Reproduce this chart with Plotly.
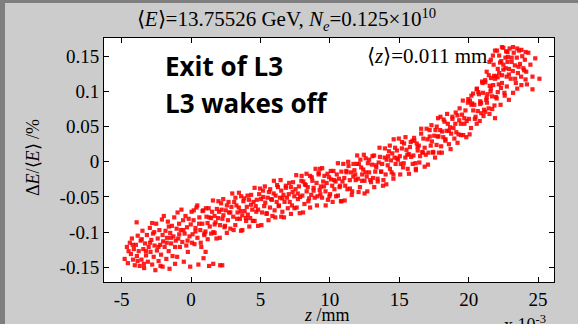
import plotly.graph_objects as go

# ---- data: z in units of 1e-3 mm, dE/<E> in % ----
z_lobe = [-4.78, -4.62, -4.55, -4.41, -4.33, -4.26, -4.18, -4.12, -4.05, -3.92,
          -3.97, -3.90, -3.84, -3.77, -3.70, -3.63, -3.57, -3.50, -3.44, -3.38, -3.31, -3.24, -3.18, -3.11, -3.05,
          -2.97, -2.92, -2.86, -2.80, -2.74, -2.69, -2.63, -2.57, -2.51, -2.46, -2.40, -2.34, -2.28, -2.22, -2.16, -2.10, -2.05, -2.01,
          -1.96, -1.90, -1.84, -1.78, -1.73, -1.67, -1.61, -1.55, -1.50, -1.44, -1.38, -1.33, -1.27, -1.21, -1.15, -1.10, -1.04,
          -0.97, -0.92, -0.86, -0.80, -0.74, -0.69, -0.63, -0.57, -0.52, -0.46, -0.40, -0.34, -0.29, -0.23, -0.17, -0.11, -0.06, -0.02,
          0.04, 0.11, 0.18, 0.25, 0.32, 0.39, 0.46, 0.53, 0.60, 0.67, 0.74, 0.81, 0.88, 0.95,
          1.30, 1.60, 2.10, 2.25, 0.90, 1.05,
          -4.5, -4.2, -3.85, -3.55, -3.25, -2.95, -2.65, -2.35, -2.05, -1.75, -1.45, -1.15, -0.85, -0.55, -0.25,
          -3.4, -2.8, -2.2, -1.6, -1.0]
de_lobe = [-0.138, -0.121, -0.144, -0.115, -0.131, -0.109, -0.139, -0.124, -0.147, -0.086,
           -0.118, -0.134, -0.105, -0.127, -0.148, -0.112, -0.139, -0.098, -0.124, -0.151, -0.116, -0.133, -0.104, -0.142, -0.121,
           -0.094, -0.128, -0.111, -0.146, -0.102, -0.135, -0.119, -0.154, -0.088, -0.126, -0.109, -0.141, -0.097, -0.118, -0.132, -0.082, -0.149, -0.113,
           -0.077, -0.121, -0.098, -0.138, -0.108, -0.085, -0.127, -0.152, -0.101, -0.116, -0.091, -0.134, -0.106, -0.079, -0.145, -0.112, -0.095,
           -0.072, -0.109, -0.088, -0.121, -0.097, -0.068, -0.114, -0.083, -0.142, -0.102, -0.077, -0.119, -0.093, -0.128, -0.081, -0.106, -0.149, -0.089,
           -0.071, -0.103, -0.083, -0.117, -0.094, -0.065, -0.108, -0.146, -0.079, -0.097, -0.121, -0.088, -0.069, -0.104,
           -0.148, -0.145, -0.147, -0.147, -0.137, -0.128,
           -0.127, -0.118, -0.141, -0.110, -0.127, -0.115, -0.100, -0.121, -0.104, -0.115, -0.108, -0.121, -0.103, -0.097, -0.112,
           -0.145, -0.087, -0.148, -0.092, -0.135]

z_mid = [1.04, 1.11, 1.19, 1.27, 1.35, 1.44, 1.52, 1.61, 1.69, 1.77, 1.86, 1.95,
         2.02, 2.09, 2.17, 2.26, 2.33, 2.41, 2.50, 2.58, 2.66, 2.74, 2.83, 2.91,
         3.04, 3.11, 3.19, 3.27, 3.35, 3.44, 3.52, 3.61, 3.69, 3.77, 3.86, 3.95,
         4.02, 4.09, 4.17, 4.26, 4.33, 4.41, 4.50, 4.58, 4.66, 4.74, 4.83, 4.91,
         5.04, 5.11, 5.19, 5.27, 5.35, 5.44, 5.52, 5.61, 5.69, 5.77, 5.86, 5.95,
         6.02, 6.09, 6.17, 6.26, 6.33, 6.41, 6.50, 6.58, 6.66, 6.74, 6.83, 6.91,
         7.04, 7.11, 7.19, 7.27, 7.35, 7.44, 7.52, 7.61, 7.69, 7.77, 7.86, 7.95,
         8.02, 8.09, 8.17, 8.26, 8.33, 8.41, 8.50, 8.58, 8.66, 8.74, 8.83, 8.91,
         9.04, 9.11, 9.19, 9.27, 9.35, 9.44, 9.52, 9.61, 9.69, 9.77, 9.86, 9.95,
         10.02, 10.09, 10.17, 10.26, 10.33, 10.41, 10.50, 10.58, 10.66, 10.74, 10.83, 10.91,
         11.04, 11.11, 11.19, 11.27, 11.35, 11.44, 11.52, 11.61, 11.69, 11.77, 11.86, 11.95]
de_mid = [-0.099, -0.078, -0.087, -0.066, -0.092, -0.080, -0.071, -0.100, -0.077, -0.086, -0.067, -0.080,
          -0.071, -0.090, -0.059, -0.081, -0.076, -0.093, -0.069, -0.062, -0.083, -0.072, -0.095, -0.064,
          -0.078, -0.057, -0.090, -0.062, -0.072, -0.065, -0.081, -0.049, -0.076, -0.056, -0.070, -0.080,
          -0.064, -0.075, -0.054, -0.080, -0.047, -0.068, -0.057, -0.084, -0.063, -0.054, -0.068, -0.046,
          -0.053, -0.072, -0.041, -0.063, -0.058, -0.074, -0.051, -0.043, -0.065, -0.053, -0.077, -0.045,
          -0.069, -0.048, -0.057, -0.036, -0.062, -0.051, -0.041, -0.071, -0.047, -0.057, -0.037, -0.051,
          -0.046, -0.057, -0.036, -0.062, -0.029, -0.049, -0.039, -0.065, -0.045, -0.035, -0.050, -0.027,
          -0.048, -0.028, -0.060, -0.033, -0.042, -0.036, -0.052, -0.020, -0.047, -0.027, -0.041, -0.051,
          -0.030, -0.049, -0.018, -0.040, -0.035, -0.051, -0.028, -0.020, -0.042, -0.030, -0.054, -0.022,
          -0.046, -0.025, -0.034, -0.013, -0.039, -0.028, -0.018, -0.048, -0.024, -0.034, -0.014, -0.028,
          -0.023, -0.034, -0.013, -0.039, -0.006, -0.026, -0.015, -0.042, -0.021, -0.012, -0.026, -0.003]

z_upper = [12.02, 12.09, 12.17, 12.26, 12.33, 12.41, 12.50, 12.58, 12.66, 12.74, 12.83, 12.91,
           13.04, 13.11, 13.19, 13.27, 13.35, 13.44, 13.52, 13.61, 13.69, 13.77, 13.86, 13.95,
           14.02, 14.09, 14.17, 14.26, 14.33, 14.41, 14.50, 14.58, 14.66, 14.74, 14.83, 14.91,
           15.04, 15.11, 15.19, 15.27, 15.35, 15.44, 15.52, 15.61, 15.69, 15.77, 15.86, 15.95,
           16.02, 16.09, 16.17, 16.26, 16.33, 16.41, 16.50, 16.58, 16.66, 16.74, 16.83, 16.91,
           17.04, 17.11, 17.19, 17.27, 17.35, 17.44, 17.52, 17.61, 17.69, 17.77, 17.86, 17.95,
           18.02, 18.09, 18.17, 18.26, 18.33, 18.41, 18.50, 18.58, 18.66, 18.74, 18.83, 18.91]
de_upper = [-0.024, -0.003, -0.036, -0.008, -0.018, -0.011, -0.027, 0.005, -0.021, -0.002, -0.015, -0.026,
            -0.004, -0.023, 0.009, -0.014, -0.008, -0.024, -0.001, 0.007, -0.014, -0.003, -0.026, 0.006,
            -0.018, 0.003, -0.005, 0.015, -0.010, 0.002, 0.012, -0.018, 0.006, -0.003, 0.016, 0.003,
            0.008, -0.003, 0.019, -0.008, 0.026, 0.006, 0.017, -0.010, 0.011, 0.021, 0.007, 0.030,
            0.009, 0.030, -0.002, 0.026, 0.016, 0.023, 0.008, 0.040, 0.014, 0.033, 0.020, 0.010,
            0.032, 0.013, 0.045, 0.023, 0.029, 0.013, 0.037, 0.045, 0.024, 0.036, 0.013, 0.045,
            0.022, 0.043, 0.035, 0.057, 0.032, 0.044, 0.054, 0.025, 0.049, 0.040, 0.061, 0.048]

z_top = [19.04, 19.11, 19.19, 19.27, 19.35, 19.44, 19.52, 19.61, 19.69, 19.77, 19.86, 19.95,
         20.02, 20.09, 20.17, 20.26, 20.33, 20.41, 20.50, 20.58, 20.66, 20.74, 20.83, 20.91,
         21.04, 21.11, 21.19, 21.27, 21.35, 21.44, 21.52, 21.61, 21.69, 21.77, 21.86, 21.95,
         22.02, 22.09, 22.17, 22.26, 22.33, 22.41, 22.50, 22.58, 22.66, 22.74, 22.83, 22.91]
de_top = [0.054, 0.042, 0.066, 0.039, 0.076, 0.054, 0.067, 0.038, 0.062, 0.073, 0.058, 0.084,
          0.061, 0.087, 0.048, 0.083, 0.073, 0.081, 0.064, 0.103, 0.072, 0.096, 0.082, 0.069,
          0.098, 0.074, 0.116, 0.088, 0.096, 0.076, 0.108, 0.119, 0.093, 0.109, 0.080, 0.122,
          0.090, 0.120, 0.110, 0.141, 0.105, 0.123, 0.138, 0.098, 0.133, 0.121, 0.149, 0.132]

z_crest = [23.03, 23.10, 23.18, 23.25, 23.33, 23.40, 23.47, 23.55, 23.62, 23.70, 23.78, 23.86, 23.94,
           24.05, 24.15, 24.30, 24.45, 24.60, 24.80, 25.10, 24.20,
           21.6, 21.9, 22.2, 22.5, 22.8, 22.35, 22.65, 21.8, 22.1,
           21.5, 21.9, 22.3, 22.6, 22.9, 23.2, 23.5, 23.8, 24.1, 22.1, 22.75, 23.35, 20.8, 21.2, 24.6,
           20.2, 20.6, 21.0, 21.3, 21.5, 21.75, 22.05, 22.4, 22.7, 22.95, 23.2, 23.5, 23.8, 24.1,
           21.6, 21.9, 22.2, 22.5, 22.8, 23.1, 22.4, 22.9, 23.6, 24.0, 21.3, 20.9]
de_crest = [0.118, 0.142, 0.129, 0.155, 0.137, 0.112, 0.148, 0.126, 0.158, 0.139, 0.121, 0.150, 0.133,
            0.145, 0.128, 0.155, 0.138, 0.121, 0.147, 0.118, 0.110,
            0.145, 0.158, 0.151, 0.162, 0.156, 0.143, 0.148, 0.138, 0.132,
            0.068, 0.062, 0.081, 0.094, 0.088, 0.098, 0.104, 0.109, 0.117, 0.099, 0.107, 0.118, 0.058, 0.071, 0.103,
            0.094, 0.104, 0.112, 0.128, 0.142, 0.151, 0.158, 0.163, 0.157, 0.161, 0.163, 0.161, 0.159, 0.156,
            0.104, 0.118, 0.126, 0.131, 0.142, 0.148, 0.112, 0.124, 0.135, 0.130, 0.091, 0.084]

# second pass of points read across the band (wider spread, fills the core and fringe)
z_fill = [0.07, 0.2, 0.32, 0.45, 0.58, 0.7, 0.83, 0.97,
          1.07, 1.2, 1.32, 1.45, 1.58, 1.7, 1.83, 1.97,
          2.07, 2.2, 2.32, 2.45, 2.58, 2.7, 2.83, 2.97,
          3.07, 3.2, 3.32, 3.45, 3.58, 3.7, 3.83, 3.97,
          4.07, 4.2, 4.32, 4.45, 4.58, 4.7, 4.83, 4.97,
          5.07, 5.2, 5.32, 5.45, 5.58, 5.7, 5.83, 5.97,
          6.07, 6.2, 6.32, 6.45, 6.58, 6.7, 6.83, 6.97,
          7.07, 7.2, 7.32, 7.45, 7.58, 7.7, 7.83, 7.97,
          8.07, 8.2, 8.32, 8.45, 8.58, 8.7, 8.83, 8.97,
          9.07, 9.2, 9.32, 9.45, 9.58, 9.7, 9.83, 9.97,
          10.07, 10.2, 10.32, 10.45, 10.58, 10.7, 10.83, 10.97,
          11.07, 11.2, 11.32, 11.45, 11.58, 11.7, 11.83, 11.97,
          12.07, 12.2, 12.32, 12.45, 12.58, 12.7, 12.83, 12.97,
          13.07, 13.2, 13.32, 13.45, 13.58, 13.7, 13.83, 13.97,
          14.07, 14.2, 14.32, 14.45, 14.58, 14.7, 14.83, 14.97,
          15.07, 15.2, 15.32, 15.45, 15.58, 15.7, 15.83, 15.97,
          16.07, 16.2, 16.32, 16.45, 16.58, 16.7, 16.83, 16.97,
          17.07, 17.2, 17.32, 17.45, 17.58, 17.7, 17.83, 17.97,
          18.07, 18.2, 18.32, 18.45, 18.58, 18.7, 18.83, 18.97,
          19.07, 19.2, 19.32, 19.45, 19.58, 19.7, 19.83, 19.97,
          20.07, 20.2, 20.32, 20.45, 20.58, 20.7, 20.83, 20.97,
          21.07, 21.2, 21.32, 21.45, 21.58, 21.7, 21.83, 21.97]
de_fill = [-0.115, -0.069, -0.099, -0.062, -0.088, -0.115, -0.070, -0.102,
           -0.066, -0.110, -0.079, -0.102, -0.055, -0.089, -0.109, -0.056,
           -0.108, -0.068, -0.053, -0.091, -0.101, -0.057, -0.072, -0.045,
           -0.097, -0.051, -0.081, -0.044, -0.070, -0.097, -0.052, -0.084,
           -0.048, -0.092, -0.061, -0.084, -0.037, -0.071, -0.091, -0.038,
           -0.090, -0.050, -0.035, -0.073, -0.083, -0.039, -0.054, -0.027,
           -0.079, -0.033, -0.063, -0.026, -0.052, -0.079, -0.034, -0.066,
           -0.030, -0.074, -0.043, -0.066, -0.019, -0.053, -0.073, -0.020,
           -0.072, -0.032, -0.017, -0.056, -0.065, -0.022, -0.037, -0.010,
           -0.062, -0.016, -0.046, -0.009, -0.035, -0.062, -0.017, -0.049,
           -0.013, -0.057, -0.026, -0.049, -0.002, -0.036, -0.056, -0.003,
           -0.055, -0.015, 0.000, -0.038, -0.047, -0.003, -0.018, 0.009,
           -0.043, 0.003, -0.027, 0.010, -0.015, -0.042, 0.003, -0.029,
           0.008, -0.036, -0.005, -0.028, 0.020, -0.014, -0.034, 0.019,
           -0.032, 0.008, 0.023, -0.015, -0.024, 0.020, 0.005, 0.033,
           -0.018, 0.028, -0.002, 0.035, 0.010, -0.017, 0.028, -0.003,
           0.034, -0.010, 0.021, -0.001, 0.047, 0.013, -0.007, 0.047,
           -0.004, 0.036, 0.052, 0.014, 0.006, 0.050, 0.036, 0.064,
           0.013, 0.060, 0.030, 0.068, 0.044, 0.018, 0.064, 0.033,
           0.070, 0.027, 0.059, 0.038, 0.087, 0.054, 0.035, 0.089,
           0.039, 0.081, 0.097, 0.061, 0.054, 0.099, 0.086, 0.114,
           0.065, 0.113, 0.084, 0.123, 0.100, 0.075, 0.122, 0.092]

z_stray = [6.5, 9.3, 12.5, 16.2, 3.6, 17.8, 10.8, 14.6, 1.7]
de_stray = [-0.078, -0.010, -0.045, -0.012, -0.098, 0.062, -0.056, 0.032, -0.101]

x_tickvals = [-5, 0, 5, 10, 15, 20, 25]
x_ticktext = ["-5", "0", "5", "10", "15", "20", "25"]
y_tickvals = [-0.15, -0.1, -0.05, 0, 0.05, 0.1, 0.15]
y_ticktext = ["-0.15", "-0.1", "-0.05", "0", "0.05", "0.1", "0.15"]

z_all = z_lobe + z_mid + z_upper + z_top + z_crest + z_fill + z_stray
de_all = de_lobe + de_mid + de_upper + de_top + de_crest + de_fill + de_stray

SERIF = "Liberation Serif, Times New Roman, serif"

fig = go.Figure()
fig.add_trace(go.Scatter(
    x=z_all, y=de_all, mode="markers",
    marker=dict(symbol="square", size=4.2, color="#ff0000", opacity=0.88, line=dict(width=0)),
    hoverinfo="skip", showlegend=False))

W, H = 578, 324
L, R, T, B = 104, 24, 38, 42
pw, ph = W - L - R, H - T - B

def px(xp):
    return (xp - L) / pw

def py(yp):
    return (H - B - yp) / ph

axis_common = dict(showline=True, linecolor="black", linewidth=1, mirror="ticks",
                   ticks="inside", ticklen=5, tickcolor="black", showgrid=False, zeroline=False,
                   tickfont=dict(family=SERIF, size=19, color="black"))

fig.update_layout(
    width=W, height=H,
    margin=dict(l=L, r=R, t=T, b=B, pad=0),
    paper_bgcolor="#cccccc", plot_bgcolor="white",
    title=dict(text="⟨<i>E</i>⟩=13.75526 GeV, <i>N</i><sub><i>e</i></sub>=0.125×10<sup>10</sup>",
               x=px(327), xanchor="center", y=(H - 19) / H, yanchor="middle",
               font=dict(family=SERIF, size=21, color="black")),
    xaxis=dict(range=[-6.27, 26.15], tickvals=x_tickvals, ticktext=x_ticktext, **axis_common),
    yaxis=dict(range=[-0.1708, 0.1759], tickvals=y_tickvals, ticktext=y_ticktext, **axis_common),
    shapes=[
        dict(type="rect", xref="paper", yref="paper", x0=px(0), x1=px(5), y0=py(H), y1=py(0),
             fillcolor="#7f7f7f", line=dict(width=0), layer="above"),
        dict(type="rect", xref="paper", yref="paper", x0=px(0), x1=px(W), y0=py(3), y1=py(0),
             fillcolor="#7f7f7f", line=dict(width=0), layer="above"),
    ],
    annotations=[
        dict(text="Exit of L3", xref="paper", yref="paper", x=px(163), y=py(66),
             xanchor="left", yanchor="middle", showarrow=False,
             font=dict(family="Open Sans", size=26, color="black", weight="bold")),
        dict(text="L3 wakes off", xref="paper", yref="paper", x=px(163), y=py(103),
             xanchor="left", yanchor="middle", showarrow=False,
             font=dict(family="Open Sans", size=26, color="black", weight="bold")),
        dict(text="⟨<i>z</i>⟩=0.011 mm", xref="paper", yref="paper", x=px(365), y=py(56),
             xanchor="left", yanchor="middle", showarrow=False,
             font=dict(family=SERIF, size=21, color="black")),
        dict(text="Δ<i>E</i>/⟨<i>E</i>⟩ /%", xref="paper", yref="paper", x=px(33), y=py(158),
             xanchor="center", yanchor="middle", textangle=-90, showarrow=False,
             font=dict(family=SERIF, size=18, color="black")),
        dict(text="<i>z</i> /mm", xref="paper", yref="paper", x=px(327), y=py(315),
             xanchor="center", yanchor="middle", showarrow=False,
             font=dict(family=SERIF, size=18, color="black")),
        dict(text="x 10<sup>-3</sup>", xref="paper", yref="paper", x=px(502), y=py(310),
             xanchor="left", yanchor="top", showarrow=False,
             font=dict(family=SERIF, size=18, color="black")),
    ],
)

fig.write_html("out.html")
